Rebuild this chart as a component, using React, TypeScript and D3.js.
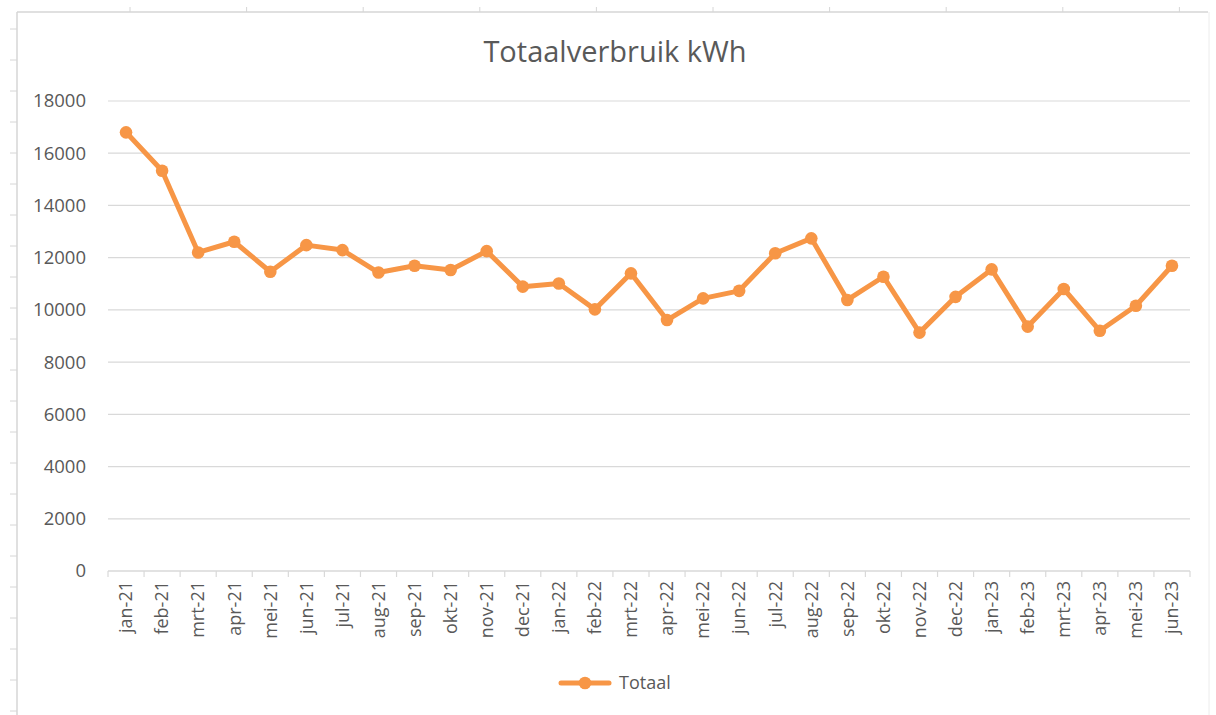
import React from 'react'
import * as d3 from 'd3'

const months = [
  'jan-21', 'feb-21', 'mrt-21', 'apr-21', 'mei-21', 'jun-21', 'jul-21', 'aug-21', 'sep-21', 'okt-21', 'nov-21', 'dec-21',
  'jan-22', 'feb-22', 'mrt-22', 'apr-22', 'mei-22', 'jun-22', 'jul-22', 'aug-22', 'sep-22', 'okt-22', 'nov-22', 'dec-22',
  'jan-23', 'feb-23', 'mrt-23', 'apr-23', 'mei-23', 'jun-23',
]
const totaal = [
  16800, 15330, 12200, 12610, 11460, 12480, 12290, 11430, 11690, 11530, 12250, 10890,
  11010, 10020, 11400, 9610, 10440, 10730, 12170, 12740, 10380, 11270, 9130, 10500,
  11550, 9360, 10800, 9200, 10160, 11690,
]
const yTicks = [0, 2000, 4000, 6000, 8000, 10000, 12000, 14000, 16000, 18000]
const seriesName = 'Totaal'
const title = 'Totaalverbruik kWh'

const W = 1216
const H = 715
const orange = '#f79646'
const textGrey = '#595959'
const gridGrey = '#d9d9d9'
const font = '"Open Sans", sans-serif'

export default function App() {
  const margin = { top: 101, left: 108, right: 26, bottom: 144 }

  const x = d3.scaleBand<string>()
    .domain(months)
    .range([margin.left, W - margin.right])

  const y = d3.scaleLinear()
    .domain([0, 18000])
    .range([H - margin.bottom, margin.top])

  const line = d3.line<number>()
    .x((d, i) => x(months[i])! + x.bandwidth() / 2)
    .y(d => y(d))

  // spreadsheet row / column markers around the chart frame
  const colMarks = d3.range(130, 1200, 116.6)
  const rowMarks = d3.range(29, H, 31)

  const tickEdges = d3.range(months.length + 1).map(i => margin.left + i * x.step())

  return (
    <svg width={W} height={H} style={{ position: 'absolute', left: 0, top: 0, display: 'block', background: '#fff' }}>
      {/* frame */}
      <line x1={17} x2={1208} y1={12} y2={12} stroke="#d6d6d6" strokeWidth={1.5} />
      <line x1={17} x2={17} y1={12} y2={H} stroke="#d6d6d6" strokeWidth={1.5} />
      <line x1={1209} x2={1209} y1={12} y2={H} stroke="#ececec" strokeWidth={1} />
      {colMarks.map(cx => (
        <line key={'c' + cx} x1={cx} x2={cx} y1={7} y2={12} stroke="#d6d6d6" />
      ))}
      {rowMarks.map(ry => (
        <line key={'r' + ry} x1={10} x2={17} y1={ry} y2={ry} stroke="#d6d6d6" />
      ))}

      <text x={615} y={62} textAnchor="middle" fill={textGrey} fontFamily={font} fontSize={29}>
        {title}
      </text>

      {/* gridlines and y labels */}
      {yTicks.map(t => (
        <g key={t}>
          {t > 0 && (
            <line x1={margin.left} x2={W - margin.right} y1={y(t)} y2={y(t)} stroke={gridGrey} strokeWidth={1.2} />
          )}
          <text x={86} y={y(t)} dy="0.35em" textAnchor="end" fill={textGrey} fontFamily={font} fontSize={18.5}>
            {t}
          </text>
        </g>
      ))}

      {/* x axis */}
      <line x1={margin.left} x2={W - margin.right} y1={y(0)} y2={y(0)} stroke={gridGrey} strokeWidth={1.5} />
      {tickEdges.map(tx => (
        <line key={tx} x1={tx} x2={tx} y1={y(0)} y2={y(0) + 6} stroke={gridGrey} strokeWidth={1.2} />
      ))}
      {months.map(m => (
        <text
          key={m}
          transform={`translate(${x(m)! + x.bandwidth() / 2},${y(0) + 10}) rotate(-90)`}
          dy="0.35em"
          textAnchor="end"
          fill={textGrey}
          fontFamily={font}
          fontSize={18}
        >
          {m}
        </text>
      ))}

      {/* series */}
      <path d={line(totaal) ?? ''} fill="none" stroke={orange} strokeWidth={5} strokeLinejoin="round" strokeLinecap="round" />
      {totaal.map((v, i) => (
        <circle key={i} cx={x(months[i])! + x.bandwidth() / 2} cy={y(v)} r={6.3} fill={orange} />
      ))}

      {/* legend */}
      <line x1={561} x2={609} y1={683} y2={683} stroke={orange} strokeWidth={5} strokeLinecap="round" />
      <circle cx={585} cy={683} r={6.3} fill={orange} />
      <text x={619} y={683} dy="0.35em" fill={textGrey} fontFamily={font} fontSize={18}>
        {seriesName}
      </text>
    </svg>
  )
}
